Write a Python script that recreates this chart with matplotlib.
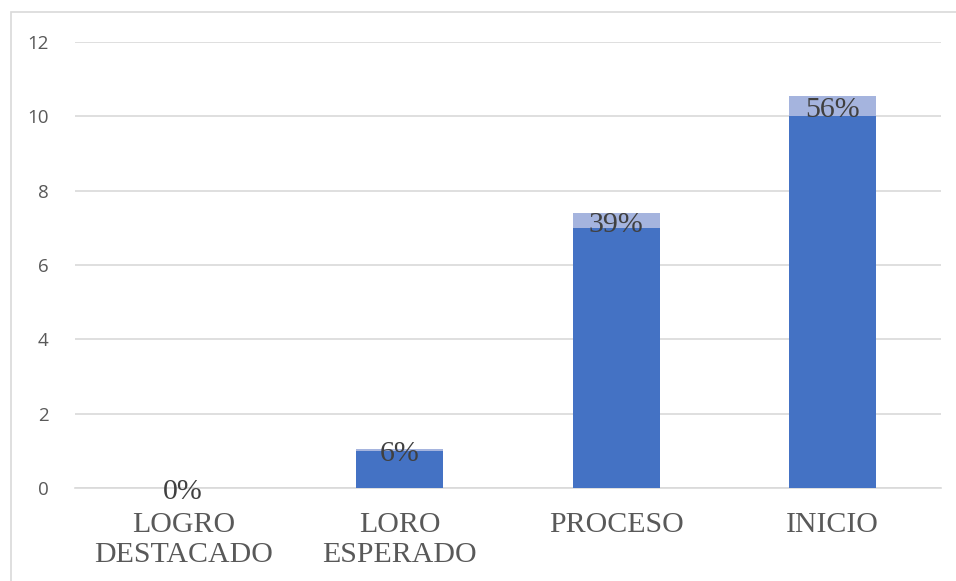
import matplotlib
matplotlib.use("Agg")
import matplotlib.pyplot as plt
from matplotlib.patches import Rectangle
from matplotlib.transforms import offset_copy

categories = ["LOGRO\nDESTACADO", "LORO\nESPERADO", "PROCESO", "INICIO"]
counts = [0, 1, 7, 10]
percents = [0, 6, 39, 56]
y_ticks = [0, 2, 4, 6, 8, 10, 12]

fig = plt.figure(figsize=(9.56, 5.81), dpi=100)
ax = fig.add_axes([75 / 956, 1 - 488 / 581, (941 - 75) / 956, (488 - 42) / 581])

# outer chart border
fig.patches.append(Rectangle((11 / 956, -0.01), 1.2, 1 - 12 / 581 + 0.01,
                             transform=fig.transFigure, fill=False,
                             edgecolor="#D9D9D9", linewidth=1.2))

x = list(range(len(categories)))
share = [p / 100 for p in percents]
ax.bar(x, counts, width=0.4, color="#4472C4", zorder=3)
ax.bar(x, share, bottom=counts, width=0.4, color="#A5B4DE", zorder=3)

label_tf = offset_copy(ax.transData, fig=fig, x=0, y=-3, units="points")
for xi, c, s, p in zip(x, counts, share, percents):
    ax.text(xi, c + s / 2, f"{p}%", ha="center", va="center",
            fontsize=21.5, color="#404040", family="Liberation Serif",
            zorder=4, transform=label_tf)

ax.set_xlim(-0.5, len(categories) - 0.5)
ax.set_ylim(0, 12)
ax.set_yticks(y_ticks)
ax.set_yticklabels([str(t) for t in y_ticks], fontsize=13.5,
                   color="#595959", family="Open Sans")
ax.set_xticks(x)
ax.set_xticklabels(categories, fontsize=21.5, color="#595959",
                   family="Liberation Serif", linespacing=1.2)
ax.tick_params(axis="both", length=0)
ax.tick_params(axis="y", pad=19)
ax.tick_params(axis="x", pad=17)
ax.grid(axis="y", color="#D9D9D9", linewidth=1.2, zorder=0)
for s in ["top", "right", "left"]:
    ax.spines[s].set_visible(False)
ax.spines["bottom"].set_color("#D9D9D9")
ax.spines["bottom"].set_linewidth(1.2)

fig.savefig("out.png", dpi=100)
